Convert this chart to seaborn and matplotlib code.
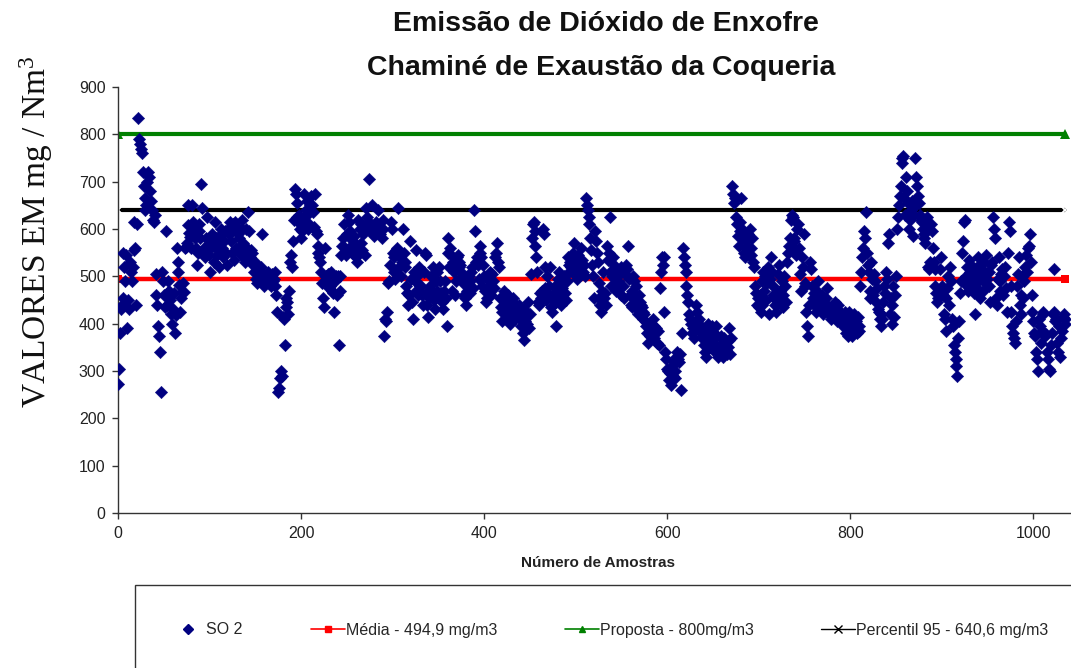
import numpy as np
import pandas as pd
import matplotlib
matplotlib.use("Agg")
import matplotlib.pyplot as plt
from matplotlib.lines import Line2D
from matplotlib.patches import Rectangle
import seaborn as sns

# ---------------- data ----------------
so2_a = [272, 304, 380, 430, 440, 455, 550, 520, 490, 545, 390,
         450, 430, 530, 510, 490, 520, 555, 615, 560, 440,
         610, 835, 790, 780, 770, 760, 720, 690, 665, 640, 650, 700, 720, 710, 680, 660, 640, 620, 615, 630,
         505, 460, 440, 395, 375, 340, 255, 510, 490, 460, 435, 595, 440, 465, 490, 470, 450, 420, 400, 430,
         465, 380, 418, 560, 530, 509, 482, 425, 454, 467, 486, 467, 560, 562, 570, 608, 650, 592, 583, 560,
         650, 615, 600, 580, 560, 525, 550, 595, 610, 580, 695, 645, 550, 560, 540, 580, 625, 565, 545, 510,
         560, 580, 590, 565, 530, 615, 580, 545, 555, 520, 570, 590, 600, 560, 540, 575, 595, 550, 525, 600,
         590, 615, 575, 595, 550, 610, 535, 615, 560, 605, 590, 580, 560, 545, 600, 620, 570, 555, 530, 600,
         560, 635, 595, 540, 555, 550, 530, 525, 510, 530, 495, 485, 510, 500, 490, 520, 590, 505, 495, 480,
         495, 500, 490, 510, 485, 500, 480, 505, 490, 495]
so2_b = [510, 480, 460, 425, 255, 265, 285, 300, 290, 415, 410, 355, 455, 435, 445, 420, 470, 530, 545, 520,
         575, 620, 685, 675, 655, 625, 615, 630, 600, 580, 595, 620, 675, 605, 640, 660, 630, 600, 610, 650,
         670, 650, 635, 605, 675, 595, 590, 565, 550, 540, 530, 510, 485, 455, 435, 560, 500, 490, 505, 475,
         505, 480, 510, 470, 465, 425, 490, 500, 460, 500, 355, 470, 500, 545, 565, 580, 610, 560, 545, 590,
         630, 615, 595, 580, 565, 550, 575, 585, 560, 540, 530, 620, 550, 600, 610, 570, 555, 590, 600, 545,
         645, 625, 615, 705, 600, 610, 650, 600, 590, 585, 600, 615, 595, 640, 605, 590, 600, 580, 620, 600,
         375, 410, 405, 425, 485, 490, 525, 615, 600, 550, 540, 510, 495, 555, 560, 645, 520, 540, 500, 530,
         600, 550, 530, 520, 480, 465, 440, 460, 575, 495, 445, 410, 510, 490, 470, 555, 500, 460, 520, 480,
         480, 460, 440, 510, 550, 545, 465, 440, 415, 455, 480, 500, 470, 520, 450, 430, 490, 470, 510, 460]
so2_c = [520, 490, 465, 445, 430, 470, 490, 455, 395, 580, 550, 520, 560, 545, 470, 530, 510, 460, 490, 540,
         545, 530, 520, 525, 510, 500, 485, 460, 455, 440, 470, 480, 500, 490, 465, 510, 520, 475, 640, 595,
         530, 540, 525, 495, 550, 565, 540, 480, 525, 500, 470, 445, 455, 475, 490, 510, 460, 480, 505, 490,
         475, 540, 550, 570, 530, 520, 455, 435, 405, 425, 455, 470, 440, 410, 430, 460, 420, 400, 445, 415,
         455, 440, 425, 410, 440, 435, 420, 440, 410, 395, 420, 380, 365, 430, 405, 415, 400, 445, 390, 420,
         505, 580, 610, 615, 595, 565, 540, 510, 445, 440, 465, 455, 470, 600, 590, 520, 475, 450, 500, 460,
         480, 520, 435, 425, 455, 465, 480, 445, 395, 470, 495, 510, 455, 440, 475, 485, 500, 465, 450, 490,
         505, 540, 525, 530, 520, 510, 550, 570, 540, 515, 495, 530, 545, 500, 520, 560, 535, 510, 525, 500,
         665, 650, 640, 625, 610, 580, 555, 525, 500, 455, 595, 575, 550, 530, 485, 455, 440, 425, 470, 510]
so2_d = [455, 465, 440, 565, 535, 550, 625, 510, 480, 500, 540, 525, 495, 470, 515, 490, 505, 480, 520, 460,
         510, 480, 455, 505, 525, 515, 565, 495, 460, 440, 435, 470, 500, 490, 450, 480, 430, 420, 460, 445,
         440, 435, 425, 410, 420, 405, 395, 380, 360, 390, 375, 400, 385, 410, 395, 370, 380, 390, 360, 385,
         355, 475, 510, 540, 525, 425, 540, 340, 325, 305, 300, 280, 295, 270, 310, 290, 320, 285, 300, 330,
         340, 325, 320, 335, 260, 380, 560, 540, 525, 510, 480, 460, 445, 420, 410, 400, 380, 390, 370, 405,
         440, 425, 405, 390, 410, 395, 380, 370, 390, 355, 340, 330, 360, 385, 400, 375, 350, 365, 395, 345,
         380, 355, 395, 375, 340, 330, 345, 355, 375, 340, 330, 370, 360, 345, 335, 350, 390, 365, 335, 370,
         690, 675, 655, 665, 625, 610, 585, 565, 595, 615, 665, 600, 580, 550, 540, 575, 560, 590, 545, 600,
         560, 545, 580, 530, 520, 480, 465, 440, 455, 435, 460, 425, 440, 490, 510, 470, 500, 450, 485, 520]
so2_e = [420, 495, 540, 510, 480, 460, 455, 440, 425, 465, 505, 525, 470, 450, 490, 435, 460, 500, 480, 445,
         530, 550, 565, 580, 620, 630, 625, 580, 575, 555, 545, 600, 610, 560, 505, 470, 540, 520, 590, 485,
         480, 425, 395, 375, 440, 530, 515, 480, 455, 465, 455, 435, 425, 470, 490, 450, 430, 445, 460, 420,
         440, 435, 455, 475, 440, 430, 420, 425, 410, 425, 435, 415, 445, 420, 430, 405, 440, 415, 425, 410,
         410, 395, 405, 425, 380, 410, 395, 375, 425, 385, 410, 375, 400, 420, 390, 405, 380, 415, 395, 385,
         480, 510, 540, 560, 595, 580, 635, 550, 525, 510, 470, 455, 530, 495, 460, 505, 490, 445, 475, 430,
         425, 410, 395, 420, 410, 445, 480, 465, 510, 495, 570, 590, 420, 455, 400, 440, 480, 415, 460, 500,
         600, 625, 650, 670, 690, 750, 740, 755, 665, 630, 710, 680, 655, 600, 620, 640, 660, 585, 645, 630,
         750, 710, 690, 670, 655, 630, 620, 615, 600, 590, 580, 570, 600, 625, 520, 515, 530, 610, 595, 560]
so2_f = [530, 515, 480, 465, 445, 455, 470, 515, 540, 480, 460, 420, 410, 385, 455, 475, 500, 440, 520, 490,
         410, 395, 355, 340, 325, 310, 290, 370, 405, 465, 490, 550, 575, 615, 620, 500, 480, 520, 470, 535,
         510, 495, 480, 520, 465, 420, 505, 475, 490, 540, 525, 455, 500, 515, 470, 530, 485, 545, 495, 510,
         510, 480, 445, 525, 530, 625, 600, 580, 455, 440, 495, 540, 490, 470, 505, 515, 460, 500, 520, 475,
         425, 550, 615, 595, 480, 425, 395, 380, 370, 360, 405, 480, 505, 540, 440, 420, 460, 500, 455, 490,
         520, 545, 510, 560, 565, 590, 530, 460, 425, 405, 380, 375, 340, 325, 300, 410, 395, 360, 385, 420,
         425, 380, 375, 378, 340, 325, 305, 300, 355, 380, 420, 425, 515, 405, 410, 360, 340, 395, 330, 370,
         385, 415, 420, 410, 400]

media = 494.9
proposta = 800
percentil95 = 640.6

title_lines = ["Emissão de Dióxido de Enxofre", "Chaminé de Exaustão da Coqueria"]
xlabel = "Número de Amostras"
ylabel = "VALORES EM mg / Nm$^{3}$"
x_ticks = [0, 200, 400, 600, 800, 1000]
y_ticks = [0, 100, 200, 300, 400, 500, 600, 700, 800, 900]
legend_labels = ["SO 2", "Média - 494,9 mg/m3", "Proposta - 800mg/m3", "Percentil 95 - 640,6 mg/m3"]

so2 = so2_a + so2_b + so2_c + so2_d + so2_e + so2_f
df = pd.DataFrame({"amostra": np.arange(len(so2)), "so2": so2})
x_end = len(so2) - 1
ref = pd.DataFrame({"amostra": [0, x_end]})

# ---------------- style ----------------
sns.set_theme(style="white")
plt.rcParams["font.family"] = ["Liberation Sans", "DejaVu Sans"]
plt.rcParams["mathtext.fontset"] = "custom"
plt.rcParams["mathtext.rm"] = "Liberation Serif"
plt.rcParams["mathtext.it"] = "Liberation Serif"

W, H = 1071, 668
fig = plt.figure(figsize=(W / 100, H / 100), dpi=100)
ax = fig.add_axes([118 / W, 1 - 513 / H, (1070 - 118) / W, (513 - 87) / H])

navy = "#000080"
red = "#ff0000"
green = "#008000"

sns.lineplot(x=ref["amostra"], y=[media] * 2, ax=ax, color=red, lw=3.2,
             marker="s", markersize=6, markeredgewidth=0, zorder=2)
sns.lineplot(x=ref["amostra"], y=[proposta] * 2, ax=ax, color=green, lw=3.0,
             marker="^", markersize=7, markeredgewidth=0, zorder=2)
sns.lineplot(x=ref["amostra"], y=[percentil95] * 2, ax=ax, color="black", lw=3.0,
             marker="x", markersize=8, markeredgewidth=1.3, zorder=2)
sns.scatterplot(data=df, x="amostra", y="so2", ax=ax, marker="D", s=40,
                color=navy, edgecolor=navy, linewidth=0.3, zorder=3)

ax.set_xlim(0, 1040)
ax.set_ylim(0, 900)
ax.set_xticks(x_ticks)
ax.set_yticks(y_ticks)
ax.set_xlabel("")
ax.set_ylabel("")
ax.tick_params(axis="both", which="major", direction="out", length=4, width=1,
               color="#333333", labelsize=11.5, labelcolor="#222222", pad=5,
               left=True, bottom=True)
for s in ["top", "right"]:
    ax.spines[s].set_visible(False)
for s in ["left", "bottom"]:
    ax.spines[s].set_color("#333333")
    ax.spines[s].set_linewidth(1.0)
ax.grid(False)

# titles and labels
fig.text(606 / W, 1 - 24 / H, title_lines[0], ha="center", va="center",
         fontsize=20.5, fontweight="bold", color="#111111")
fig.text(601 / W, 1 - 68 / H, title_lines[1], ha="center", va="center",
         fontsize=20.5, fontweight="bold", color="#111111")
fig.text(598 / W, 1 - 563 / H, xlabel, ha="center", va="center",
         fontsize=11, fontweight="bold", color="#222222")
fig.text(36 / W, 1 - 232 / H, ylabel, ha="center", va="center", rotation=90,
         fontsize=24, family=["Liberation Serif", "DejaVu Serif"], color="#111111")

# legend frame (runs off the figure edge as in the reference)
fig.patches.append(Rectangle((135 / W, -0.05), 1.0, (1 - 585 / H) + 0.05,
                             transform=fig.transFigure, fill=False,
                             edgecolor="#333333", lw=1.0, clip_on=False))

handles = [
    Line2D([], [], ls="none", marker="D", color=navy, markersize=5),
    Line2D([], [], color=red, lw=1.2, marker="s", markersize=4),
    Line2D([], [], color=green, lw=1.2, marker="^", markersize=5),
    Line2D([], [], color="black", lw=1.0, marker="x", markersize=6, markeredgewidth=1.0),
]
starts = [171, 311, 565, 821]
for h, lab, xs in zip(handles, legend_labels, starts):
    fig.legend([h], [lab], loc="center left", bbox_to_anchor=(xs / W, 1 - 630 / H),
               frameon=False, fontsize=11.5, handlelength=2.1, handletextpad=0.12,
               borderpad=0, borderaxespad=0, numpoints=1)

fig.savefig("out.png", dpi=100)
